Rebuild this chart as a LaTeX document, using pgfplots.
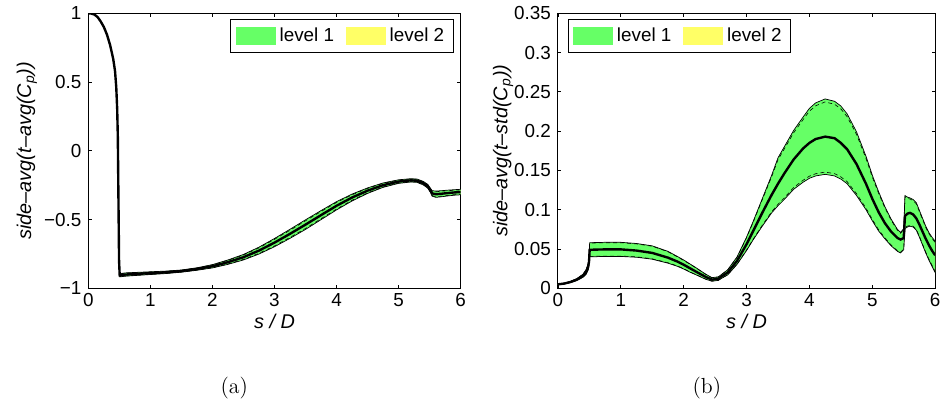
\documentclass[border=0pt]{standalone}
\usepackage{pgfplots}
\pgfplotsset{compat=1.18}
\usepackage{pgfplotstable}
\usepgfplotslibrary{fillbetween}
\usepackage{fontspec}
\setsansfont{Liberation Sans}
\definecolor{levone}{RGB}{102,255,102}
\definecolor{levtwo}{RGB}{255,255,102}

\pgfplotstableread{
x m lo hi lotwo hitwo
0 1.000 1.000 1.000 1.000 1.000
0.05 0.998 0.998 0.998 0.998 0.998
0.1 0.990 0.990 0.990 0.990 0.990
0.15 0.972 0.971 0.973 0.971 0.973
0.2 0.940 0.939 0.941 0.939 0.941
0.25 0.900 0.899 0.901 0.899 0.901
0.3 0.845 0.844 0.846 0.844 0.846
0.35 0.770 0.769 0.771 0.769 0.771
0.4 0.670 0.669 0.671 0.669 0.671
0.43 0.580 0.579 0.581 0.579 0.581
0.45 0.460 0.459 0.461 0.459 0.461
0.465 0.300 0.299 0.301 0.299 0.301
0.475 0.100 0.099 0.101 0.099 0.101
0.485 -0.350 -0.352 -0.348 -0.352 -0.348
0.495 -0.800 -0.805 -0.795 -0.804 -0.796
0.505 -0.905 -0.917 -0.893 -0.915 -0.895
0.6 -0.900 -0.912 -0.888 -0.910 -0.890
0.8 -0.895 -0.906 -0.884 -0.904 -0.886
1.0 -0.890 -0.900 -0.880 -0.898 -0.882
1.25 -0.884 -0.893 -0.875 -0.891 -0.877
1.5 -0.875 -0.883 -0.867 -0.881 -0.869
1.75 -0.860 -0.869 -0.851 -0.867 -0.853
2.0 -0.840 -0.852 -0.828 -0.850 -0.830
2.25 -0.810 -0.826 -0.794 -0.823 -0.797
2.5 -0.774 -0.794 -0.754 -0.790 -0.758
2.75 -0.726 -0.751 -0.701 -0.746 -0.706
3.0 -0.668 -0.698 -0.638 -0.692 -0.644
3.25 -0.604 -0.637 -0.571 -0.630 -0.578
3.5 -0.537 -0.572 -0.502 -0.565 -0.509
3.75 -0.468 -0.501 -0.435 -0.494 -0.442
4.0 -0.400 -0.430 -0.370 -0.424 -0.376
4.25 -0.340 -0.365 -0.315 -0.360 -0.320
4.5 -0.290 -0.310 -0.270 -0.306 -0.274
4.75 -0.250 -0.266 -0.234 -0.263 -0.237
5.0 -0.224 -0.237 -0.211 -0.234 -0.214
5.2 -0.215 -0.227 -0.203 -0.225 -0.205
5.3 -0.218 -0.230 -0.206 -0.228 -0.208
5.4 -0.236 -0.249 -0.223 -0.246 -0.226
5.47 -0.258 -0.272 -0.244 -0.269 -0.247
5.51 -0.285 -0.300 -0.270 -0.297 -0.273
5.54 -0.310 -0.330 -0.290 -0.326 -0.294
5.6 -0.316 -0.339 -0.293 -0.334 -0.298
5.7 -0.312 -0.334 -0.290 -0.330 -0.294
5.8 -0.307 -0.328 -0.286 -0.324 -0.290
5.9 -0.303 -0.323 -0.283 -0.319 -0.287
6.0 -0.300 -0.320 -0.280 -0.316 -0.284
}\tabL

\pgfplotstableread{
x m lo hi lotwo hitwo
0 0.0050 0.0045 0.0055 0.0046 0.0054
0.1 0.0060 0.0054 0.0066 0.0055 0.0065
0.2 0.0080 0.0072 0.0088 0.0073 0.0087
0.3 0.0110 0.0098 0.0122 0.0100 0.0120
0.4 0.0160 0.0140 0.0180 0.0142 0.0178
0.45 0.0210 0.0180 0.0240 0.0183 0.0237
0.48 0.0270 0.0230 0.0310 0.0234 0.0306
0.495 0.0340 0.0290 0.0390 0.0295 0.0385
0.505 0.0490 0.0400 0.0580 0.0405 0.0575
0.75 0.0495 0.0405 0.0585 0.0410 0.0580
1.0 0.0495 0.0405 0.0585 0.0410 0.0580
1.25 0.0480 0.0395 0.0570 0.0400 0.0565
1.5 0.0450 0.0370 0.0540 0.0375 0.0535
1.75 0.0390 0.0320 0.0470 0.0325 0.0465
1.9 0.0340 0.0280 0.0405 0.0284 0.0400
2.0 0.0300 0.0245 0.0360 0.0250 0.0355
2.1 0.0255 0.0205 0.0310 0.0208 0.0306
2.2 0.0210 0.0170 0.0260 0.0173 0.0257
2.35 0.0145 0.0115 0.0180 0.0117 0.0178
2.45 0.0110 0.0090 0.0135 0.0091 0.0133
2.55 0.0120 0.0100 0.0145 0.0101 0.0143
2.6 0.0150 0.0125 0.0175 0.0126 0.0174
2.7 0.0200 0.0170 0.0235 0.0172 0.0232
2.85 0.0350 0.0305 0.0400 0.0308 0.0396
3.0 0.0560 0.0480 0.0650 0.0485 0.0645
3.1 0.0720 0.0610 0.0840 0.0617 0.0831
3.25 0.0960 0.0790 0.1140 0.0801 0.1126
3.4 0.1190 0.0960 0.1440 0.0974 0.1421
3.5 0.1330 0.1050 0.1660 0.1068 0.1636
3.6 0.1460 0.1130 0.1800 0.1150 0.1773
3.75 0.1640 0.1260 0.2010 0.1283 0.1980
3.9 0.1780 0.1350 0.2180 0.1375 0.2147
4.0 0.1850 0.1400 0.2290 0.1427 0.2254
4.1 0.1900 0.1430 0.2360 0.1458 0.2323
4.25 0.1930 0.1450 0.2410 0.1479 0.2372
4.4 0.1910 0.1430 0.2380 0.1459 0.2342
4.5 0.1850 0.1390 0.2320 0.1418 0.2283
4.6 0.1770 0.1330 0.2220 0.1357 0.2184
4.75 0.1580 0.1180 0.1990 0.1204 0.1958
4.9 0.1330 0.1000 0.1680 0.1020 0.1653
5.0 0.1140 0.0860 0.1440 0.0877 0.1417
5.1 0.0970 0.0730 0.1230 0.0745 0.1210
5.2 0.0830 0.0630 0.1040 0.0642 0.1024
5.3 0.0720 0.0540 0.0880 0.0550 0.0866
5.4 0.0640 0.0470 0.0750 0.0478 0.0739
5.45 0.0620 0.0450 0.0710 0.0458 0.0700
5.5 0.0640 0.0490 0.0760 0.0498 0.0749
5.52 0.0920 0.0760 0.1180 0.0773 0.1163
5.56 0.0950 0.0780 0.1160 0.0791 0.1145
5.6 0.0960 0.0790 0.1150 0.0801 0.1136
5.65 0.0940 0.0780 0.1130 0.0791 0.1116
5.7 0.0890 0.0740 0.1090 0.0750 0.1076
5.75 0.0810 0.0650 0.0990 0.0660 0.0976
5.8 0.0720 0.0550 0.0890 0.0560 0.0876
5.85 0.0630 0.0450 0.0790 0.0460 0.0776
5.9 0.0550 0.0360 0.0710 0.0371 0.0696
5.95 0.0480 0.0280 0.0650 0.0291 0.0635
6.0 0.0420 0.0200 0.0600 0.0212 0.0584
}\tabR

\pgfplotsset{
  matfig/.style={
    scale only axis,
    anchor=south west,
    height=138.5pt,
    xmin=0, xmax=6,
    xtick={0,1,2,3,4,5,6},
    xticklabels={0,1,2,3,4,5,6},
    tick align=inside,
    major tick length=1.8pt,
    axis line style={line width=0.5pt},
    tick style={line width=0.4pt, black},
    tick label style={font=\sffamily\fontsize{9.5}{11}\selectfont},
    xticklabel style={yshift=1pt},
    label style={font=\sffamily\itshape\fontsize{10}{12}\selectfont},
    xlabel={s / D},
    xlabel style={yshift=3pt},
    legend columns=2,
    legend style={draw=black, line width=0.5pt, fill=white,
      font=\sffamily\fontsize{9.5}{11}\selectfont,
      inner xsep=2.5pt, inner ysep=2pt,
      /tikz/every even column/.append style={column sep=4pt}},
    legend image code/.code={\fill[##1] (0pt,-4.4pt) rectangle (20pt,4.4pt);},
  },
  bandedge/.style={black, line width=0.35pt, forget plot},
  bandedgetwo/.style={black, line width=0.3pt, dash pattern=on 2pt off 1.5pt, forget plot},
  meanline/.style={black, line width=1.2pt, forget plot},
}

\begin{document}
\begin{tikzpicture}
% ---------------- (a) ----------------
\begin{axis}[matfig,
  at={(44.5pt,59pt)},
  width=187.5pt,
  ymin=-1, ymax=1,
  ytick={-1,-0.5,0,0.5,1},
  yticklabels={−1,−0.5,0,0.5,1},
  ylabel={side–avg(t–avg(C\textsubscript{p}))},
  ylabel style={at={(axis description cs:-0.165,0.5)}, anchor=center},
  legend style={at={(1,1)}, anchor=north east, xshift=-3.5pt, yshift=-3pt},
]
\addlegendimage{fill=levone, draw=none}
\addlegendentry{level 1}
\addlegendimage{fill=levtwo, draw=none}
\addlegendentry{level 2}
\addplot[draw=none, name path=ahi, forget plot] table[x=x,y=hi]{\tabL};
\addplot[draw=none, name path=alo, forget plot] table[x=x,y=lo]{\tabL};
\addplot[draw=none, name path=ahitwo, forget plot] table[x=x,y=hitwo]{\tabL};
\addplot[draw=none, name path=alotwo, forget plot] table[x=x,y=lotwo]{\tabL};
\addplot[levtwo, forget plot] fill between[of=ahitwo and alotwo];
\addplot[levone, forget plot] fill between[of=ahi and alo];
\addplot[bandedge] table[x=x,y=hi]{\tabL};
\addplot[bandedge] table[x=x,y=lo]{\tabL};
\addplot[bandedgetwo] table[x=x,y=hitwo]{\tabL};
\addplot[bandedgetwo] table[x=x,y=lotwo]{\tabL};
\addplot[meanline] table[x=x,y=m]{\tabL};
\end{axis}
% ---------------- (b) ----------------
\begin{axis}[matfig,
  at={(281pt,59pt)},
  width=190pt,
  ymin=0, ymax=0.35,
  ytick={0,0.05,0.1,0.15,0.2,0.25,0.3,0.35},
  yticklabels={0,0.05,0.1,0.15,0.2,0.25,0.3,0.35},
  ylabel={side–avg(t–std(C\textsubscript{p}))},
  ylabel style={at={(axis description cs:-0.145,0.5)}, anchor=center},
  legend style={at={(0,1)}, anchor=north west, xshift=5pt, yshift=-3pt},
]
\addlegendimage{fill=levone, draw=none}
\addlegendentry{level 1}
\addlegendimage{fill=levtwo, draw=none}
\addlegendentry{level 2}
\addplot[draw=none, name path=bhi, forget plot] table[x=x,y=hi]{\tabR};
\addplot[draw=none, name path=blo, forget plot] table[x=x,y=lo]{\tabR};
\addplot[draw=none, name path=bhitwo, forget plot] table[x=x,y=hitwo]{\tabR};
\addplot[draw=none, name path=blotwo, forget plot] table[x=x,y=lotwo]{\tabR};
\addplot[levtwo, forget plot] fill between[of=bhitwo and blotwo];
\addplot[levone, forget plot] fill between[of=bhi and blo];
\addplot[bandedge] table[x=x,y=hi]{\tabR};
\addplot[bandedge] table[x=x,y=lo]{\tabR};
\addplot[bandedgetwo] table[x=x,y=hitwo]{\tabR};
\addplot[bandedgetwo] table[x=x,y=lotwo]{\tabR};
\addplot[meanline] table[x=x,y=m]{\tabR};
\end{axis}
\node[font=\fontsize{11}{13}\selectfont] at (118pt,8.5pt) {(a)};
\node[font=\fontsize{11}{13}\selectfont] at (356pt,8.5pt) {(b)};
\path (0,0) rectangle (473.5pt,201pt);
\end{tikzpicture}
\end{document}
